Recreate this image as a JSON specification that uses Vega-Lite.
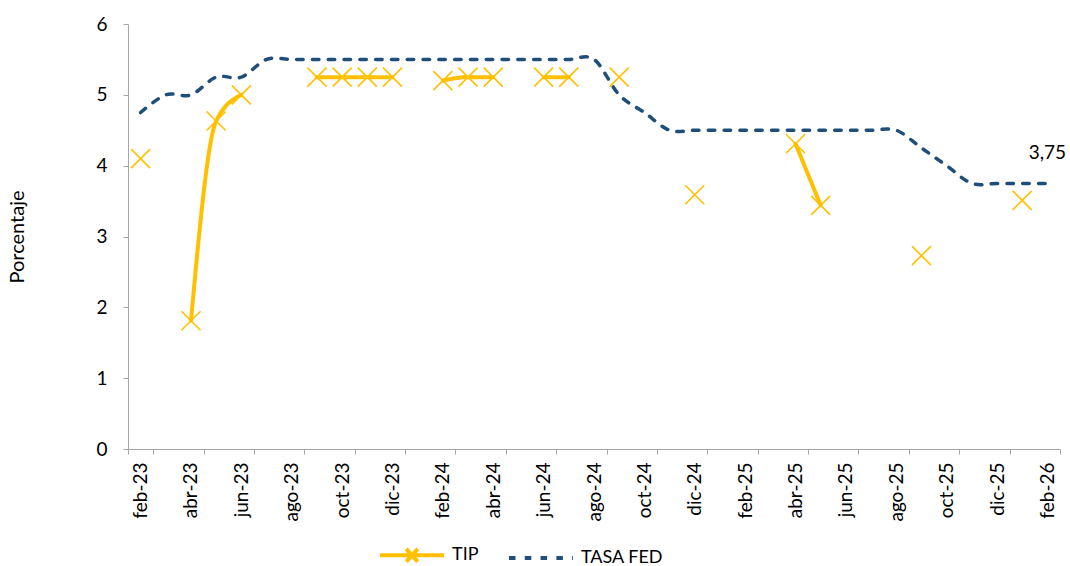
{
  "$schema": "https://vega.github.io/schema/vega-lite/v6.json",
  "width": 932,
  "height": 425,
  "autosize": {"type": "none"},
  "padding": {"left": 128, "top": 24, "right": 10, "bottom": 117},
  "config": {
    "locale": {"number": {"decimal": ",", "thousands": ".", "grouping": [3], "currency": ["", ""]}},
    "font": "Lato",
    "view": {"stroke": null},
    "axis": {
      "grid": false,
      "domainColor": "#A6A6A6",
      "tickColor": "#A6A6A6",
      "labelFont": "Lato",
      "labelFontSize": 19,
      "labelColor": "#000000",
      "titleFont": "Lato",
      "titleFontSize": 20,
      "titleFontWeight": "normal",
      "titleColor": "#000000"
    }
  },
  "data": {
    "values": [
      {"mes": "feb-23", "TIP": 4.1, "TASA FED": 4.75},
      {"mes": "mar-23", "TIP": null, "TASA FED": 5.0},
      {"mes": "abr-23", "TIP": 1.81, "TASA FED": 5.0},
      {"mes": "may-23", "TIP": 4.63, "TASA FED": 5.25},
      {"mes": "jun-23", "TIP": 5.0, "TASA FED": 5.25},
      {"mes": "jul-23", "TIP": null, "TASA FED": 5.5},
      {"mes": "ago-23", "TIP": null, "TASA FED": 5.5},
      {"mes": "sep-23", "TIP": 5.25, "TASA FED": 5.5},
      {"mes": "oct-23", "TIP": 5.25, "TASA FED": 5.5},
      {"mes": "nov-23", "TIP": 5.25, "TASA FED": 5.5},
      {"mes": "dic-23", "TIP": 5.25, "TASA FED": 5.5},
      {"mes": "ene-24", "TIP": null, "TASA FED": 5.5},
      {"mes": "feb-24", "TIP": 5.2, "TASA FED": 5.5},
      {"mes": "mar-24", "TIP": 5.25, "TASA FED": 5.5},
      {"mes": "abr-24", "TIP": 5.25, "TASA FED": 5.5},
      {"mes": "may-24", "TIP": null, "TASA FED": 5.5},
      {"mes": "jun-24", "TIP": 5.25, "TASA FED": 5.5},
      {"mes": "jul-24", "TIP": 5.25, "TASA FED": 5.5},
      {"mes": "ago-24", "TIP": null, "TASA FED": 5.5},
      {"mes": "sep-24", "TIP": 5.25, "TASA FED": 5.0},
      {"mes": "oct-24", "TIP": null, "TASA FED": 4.75},
      {"mes": "nov-24", "TIP": null, "TASA FED": 4.5},
      {"mes": "dic-24", "TIP": 3.59, "TASA FED": 4.5},
      {"mes": "ene-25", "TIP": null, "TASA FED": 4.5},
      {"mes": "feb-25", "TIP": null, "TASA FED": 4.5},
      {"mes": "mar-25", "TIP": null, "TASA FED": 4.5},
      {"mes": "abr-25", "TIP": 4.31, "TASA FED": 4.5},
      {"mes": "may-25", "TIP": 3.44, "TASA FED": 4.5},
      {"mes": "jun-25", "TIP": null, "TASA FED": 4.5},
      {"mes": "jul-25", "TIP": null, "TASA FED": 4.5},
      {"mes": "ago-25", "TIP": null, "TASA FED": 4.5},
      {"mes": "sep-25", "TIP": 2.73, "TASA FED": 4.25},
      {"mes": "oct-25", "TIP": null, "TASA FED": 4.0},
      {"mes": "nov-25", "TIP": null, "TASA FED": 3.75},
      {"mes": "dic-25", "TIP": null, "TASA FED": 3.75},
      {"mes": "ene-26", "TIP": 3.51, "TASA FED": 3.75},
      {"mes": "feb-26", "TIP": null, "TASA FED": 3.75}
    ]
  },
  "transform": [{"fold": ["TIP", "TASA FED"], "as": ["serie", "valor"]}],
  "encoding": {
    "x": {
      "field": "mes",
      "type": "ordinal",
      "sort": null,
      "scale": {
        "domain": ["feb-23","mar-23","abr-23","may-23","jun-23","jul-23","ago-23","sep-23","oct-23","nov-23","dic-23","ene-24","feb-24","mar-24","abr-24","may-24","jun-24","jul-24","ago-24","sep-24","oct-24","nov-24","dic-24","ene-25","feb-25","mar-25","abr-25","may-25","jun-25","jul-25","ago-25","sep-25","oct-25","nov-25","dic-25","ene-26","feb-26"],
        "paddingInner": 0,
        "paddingOuter": 0
      },
      "axis": {
        "title": null,
        "values": ["feb-23","abr-23","jun-23","ago-23","oct-23","dic-23","feb-24","abr-24","jun-24","ago-24","oct-24","dic-24","feb-25","abr-25","jun-25","ago-25","oct-25","dic-25","feb-26"],
        "tickBand": "extent",
        "labelAngle": -90,
        "tickSize": 5,
        "labelPadding": 8,
        "encode": {"ticks": {"update": {"y2": {"value": -5}}}}
      }
    },
    "y": {
      "field": "valor",
      "type": "quantitative",
      "scale": {"domain": [0, 6], "nice": false},
      "axis": {
        "title": "Porcentaje",
        "values": [0, 1, 2, 3, 4, 5, 6],
        "tickSize": 5,
        "labelPadding": 16,
        "titlePadding": 68,
        "encode": {"ticks": {"update": {"x2": {"value": 5}}}}
      }
    }
  },
  "layer": [
    {
      "transform": [{"filter": {"field": "serie", "equal": "TASA FED"}}],
      "mark": {"type": "line", "interpolate": "cardinal", "invalid": "break-paths-show-domains", "strokeCap": "round", "strokeWidth": 3.5},
      "encoding": {
        "color": {
          "field": "serie",
          "type": "nominal",
          "scale": {"domain": ["TIP", "TASA FED"], "range": ["#FFC000", "#1F4E79"]},
          "legend": {
            "title": null,
            "orient": "none",
            "legendX": 250,
            "legendY": 497,
            "direction": "horizontal",
            "symbolType": "stroke",
            "symbolSize": 4096,
            "symbolStrokeWidth": 4,
            "labelFont": "Lato",
            "labelFontSize": 18,
            "labelColor": "#000000",
            "labelOffset": 6,
            "columnPadding": 22,
            "encode": {
              "symbols": {
                "update": {
                  "shape": {"signal": "datum.value === 'TIP' ? 'M-1,0L1,0M-0.18,-0.2L0.18,0.2M0.18,-0.2L-0.18,0.2' : 'stroke'"}
                }
              }
            }
          }
        },
        "strokeDash": {
          "field": "serie",
          "type": "nominal",
          "scale": {"domain": ["TIP", "TASA FED"], "range": [[1, 0], [6.5, 9.3]]}
        }
      }
    },
    {
      "transform": [{"filter": {"field": "serie", "equal": "TIP"}}],
      "mark": {"type": "line", "interpolate": "monotone", "invalid": "break-paths-show-domains", "strokeCap": "round", "strokeWidth": 4},
      "encoding": {
        "color": {"field": "serie", "type": "nominal"},
        "strokeDash": {"field": "serie", "type": "nominal"}
      }
    },
    {
      "transform": [
        {"filter": {"field": "serie", "equal": "TIP"}},
        {"filter": {"field": "valor", "valid": true}}
      ],
      "mark": {
        "type": "point",
        "shape": "M-1,-1L1,1M1,-1L-1,1",
        "filled": false,
        "stroke": "#FFC000",
        "strokeWidth": 1.6,
        "size": 361,
        "opacity": 1
      }
    },
    {
      "transform": [
        {"filter": {"field": "serie", "equal": "TASA FED"}},
        {"filter": {"field": "mes", "equal": "feb-26"}}
      ],
      "mark": {"type": "text", "dy": -30, "fontSize": 19, "font": "Lato", "color": "#000000"},
      "encoding": {
        "text": {"field": "valor", "type": "quantitative", "format": ".2f"}
      }
    }
  ]
}
